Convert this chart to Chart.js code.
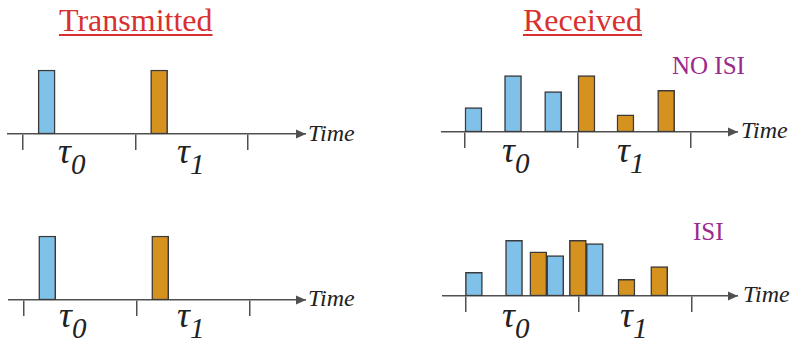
<!DOCTYPE html>
<html>
<head>
<meta charset="utf-8">
<script src="https://cdn.jsdelivr.net/npm/chart.js@4.4.1/dist/chart.umd.min.js"></script>
<style>
  body { margin: 0; background: #fff; width: 794px; height: 343px; position: relative; overflow: hidden; font-family: "Liberation Serif", Tinos, "DejaVu Serif", "Noto Serif", serif; }
  canvas { position: absolute; }
  .title { position: absolute; font-size: 32px; line-height: 32px; color: #d8302f; text-decoration: underline; text-decoration-thickness: 2px; text-underline-offset: 3px; white-space: nowrap; }
  .tag { position: absolute; font-size: 25px; line-height: 25px; color: #9a2a8c; white-space: nowrap; }
  .time { position: absolute; font-size: 24px; line-height: 24px; font-style: italic; color: #222; }
  .tau { position: absolute; font-size: 36px; line-height: 36px; font-style: italic; color: #222; white-space: nowrap; }
  .tau span { position: relative; top: 11px; font-size: 29px; }
</style>
</head>
<body>
<div class="title" style="left:59px;top:4px">Transmitted</div>
<div class="title" style="left:523px;top:4px">Received</div>
<div class="tag" style="left:672px;top:53px">NO ISI</div>
<div class="tag" style="left:693px;top:219px">ISI</div>

<div class="time" style="left:308px;top:121px">Time</div>
<div class="time" style="left:741px;top:118px">Time</div>
<div class="time" style="left:308px;top:286px">Time</div>
<div class="time" style="left:743px;top:282px">Time</div>

<div class="tau" style="left:58px;top:133px">τ<span>0</span></div>
<div class="tau" style="left:177px;top:133px">τ<span>1</span></div>
<div class="tau" style="left:502px;top:132px">τ<span>0</span></div>
<div class="tau" style="left:617px;top:132px">τ<span>1</span></div>
<div class="tau" style="left:59px;top:297px">τ<span>0</span></div>
<div class="tau" style="left:177px;top:297px">τ<span>1</span></div>
<div class="tau" style="left:502px;top:297px">τ<span>0</span></div>
<div class="tau" style="left:620px;top:297px">τ<span>1</span></div>

<canvas id="txTop"></canvas>
<canvas id="rxNoIsi"></canvas>
<canvas id="txBottom"></canvas>
<canvas id="rxIsi"></canvas>

<script>
// symbol period boundaries (tick marks on the time axis)
const symbolBoundaries = [0, 1, 2];

// transmitted pulses: symbol 0 (blue) and symbol 1 (orange)
const txTimes0 = [0.21];
const txAmp0 = [1.0];
const txTimes1 = [1.21];
const txAmp1 = [1.0];

// received, no ISI
const rxNoIsiTimes0 = [0.075, 0.425, 0.78];
const rxNoIsiAmp0 = [0.38, 0.88, 0.63];
const rxNoIsiTimes1 = [1.075, 1.42, 1.78];
const rxNoIsiAmp1 = [0.88, 0.27, 0.65];

// received, with ISI
const rxIsiTimes0 = [0.07, 0.425, 0.79, 1.14];
const rxIsiAmp0 = [0.37, 0.87, 0.63, 0.82];
const rxIsiTimes1 = [0.64, 0.99, 1.42, 1.71];
const rxIsiAmp1 = [0.69, 0.87, 0.26, 0.46];

const BLUE = '#80c1ea';
const ORANGE = '#d5921f';
const EDGE = '#3a3a3a';
const AXIS = '#505050';

const toXY = (xs, ys) => xs.map((x, i) => ({ x: x, y: ys[i] }));

const arrowHead = {
    id: 'arrowHead',
    afterDraw(chart) {
        const { ctx, chartArea } = chart;
        const r = chartArea.right, b = chartArea.bottom;
        ctx.save();
        ctx.fillStyle = AXIS;
        ctx.beginPath();
        ctx.moveTo(r, b);
        ctx.lineTo(r - 10, b - 4.5);
        ctx.lineTo(r - 10, b + 4.5);
        ctx.closePath();
        ctx.fill();
        ctx.restore();
    }
};

// left/right = page x of axis ends, axisY = page y of axis, x0 = page x of t=0, unit = px per symbol
function makePanel(id, left, right, axisY, x0, unit, times0, amp0, times1, amp1) {
    const canvas = document.getElementById(id);
    canvas.width = right - left;
    canvas.height = 100;
    canvas.style.left = left + 'px';
    canvas.style.top = (axisY - 80) + 'px';
    const bar = { borderColor: EDGE, borderWidth: 1.5, borderSkipped: false, grouped: false, barThickness: 17 };
    new Chart(canvas, {
        type: 'bar',
        data: {
            datasets: [
                Object.assign({ data: toXY(times0, amp0), backgroundColor: BLUE }, bar),
                Object.assign({ data: toXY(times1, amp1), backgroundColor: ORANGE }, bar)
            ]
        },
        options: {
            responsive: false,
            animation: false,
            events: [],
            layout: { padding: 0 },
            plugins: { legend: { display: false }, tooltip: { enabled: false } },
            scales: {
                x: {
                    type: 'linear',
                    min: (left - x0) / unit,
                    max: (right - x0) / unit,
                    offset: false,
                    afterBuildTicks: s => { s.ticks = symbolBoundaries.map(v => ({ value: v })); },
                    afterFit: s => { s.height = 20; },
                    ticks: { display: false },
                    grid: { drawOnChartArea: false, drawTicks: true, tickLength: 16, color: AXIS, lineWidth: 1.5, offset: false },
                    border: { color: AXIS, width: 1.5 }
                },
                y: { display: false, min: 0, max: 1.25 }
            }
        },
        plugins: [arrowHead]
    });
}

makePanel('txTop', 7, 306, 134, 23, 112.5, txTimes0, txAmp0, txTimes1, txAmp1);
makePanel('rxNoIsi', 441, 738, 132, 465, 113, rxNoIsiTimes0, rxNoIsiAmp0, rxNoIsiTimes1, rxNoIsiAmp1);
makePanel('txBottom', 8, 306, 300, 23.5, 113, txTimes0, txAmp0, txTimes1, txAmp1);
makePanel('rxIsi', 442, 738, 296, 466, 113, rxIsiTimes0, rxIsiAmp0, rxIsiTimes1, rxIsiAmp1);
</script>
</body>
</html>
